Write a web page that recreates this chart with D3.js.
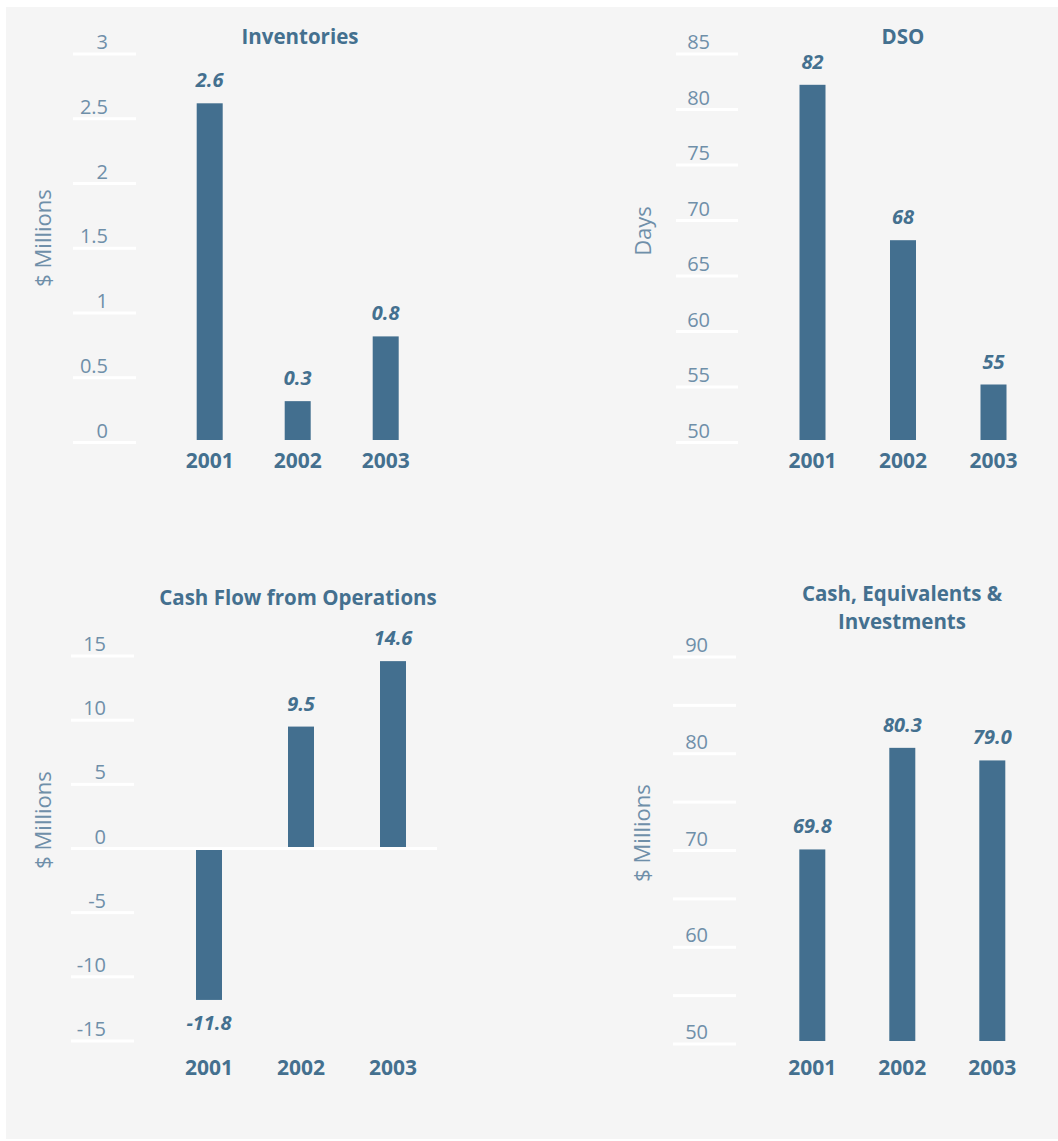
<!DOCTYPE html>
<html>
<head>
<meta charset="utf-8">
<script src="https://cdn.jsdelivr.net/npm/d3@7"></script>
<style>
  html, body { margin: 0; padding: 0; background: #ffffff; }
  svg { display: block; }
  text { font-family: "Open Sans", "Noto Sans", sans-serif; }
</style>
</head>
<body>
<svg id="chart" width="1058" height="1141"></svg>
<script>
// ---- Data ----
const years = ["2001", "2002", "2003"];
const inventories = [2.6, 0.3, 0.8];
const dso = [82, 68, 55];
const cashFlow = [-11.8, 9.5, 14.6];
const cashEquiv = [69.8, 80.3, 79.0];

const inventoryTicks = [0, 0.5, 1, 1.5, 2, 2.5, 3];
const inventoryTickLabels = ["0", "0.5", "1", "1.5", "2", "2.5", "3"];
const dsoTicks = [50, 55, 60, 65, 70, 75, 80, 85];
const dsoTickLabels = ["50", "55", "60", "65", "70", "75", "80", "85"];
const cashFlowTicks = [-15, -10, -5, 0, 5, 10, 15];
const cashFlowTickLabels = ["-15", "-10", "-5", "0", "5", "10", "15"];
const cashEquivTicks = [50, 55, 60, 65, 70, 75, 80, 85, 90];
const cashEquivTickLabels = ["50", "", "60", "", "70", "", "80", "", "90"];

// ---- Styles ----
const BAR = "#436f8f";
const DARK = "#44708f";
const LIGHT = "#6f8fa9";
const BG = "#f5f5f5";

const svg = d3.select("#chart");
svg.append("rect").attr("x", 6).attr("y", 7).attr("width", 1052).attr("height", 1132).attr("fill", BG);

const locale = d3.formatLocale({decimal: ".", thousands: ",", grouping: [3], currency: ["$", ""], minus: "-"});

// ---- Layout configs ----
const charts = [
  {
    title: ["Inventories"], titleX: 300, titleY: 44, titleGap: 0,
    yTitle: "$ Millions", yTitleX: 43, yTitleY: 238,
    values: inventories, fmt: locale.format(".1f"),
    ticks: inventoryTicks, tickLabels: inventoryTickLabels,
    yDomain: [0, 3], yRange: [440, 51.5], gridOff: 2.5,
    xCenters: [209.7, 385.7], gridX: [73, 136], tickX: 108,
    xLabelY: 468
  },
  {
    title: ["DSO"], titleX: 903, titleY: 44, titleGap: 0,
    yTitle: "Days", yTitleX: 643, yTitleY: 231,
    values: dso, fmt: locale.format("d"),
    ticks: dsoTicks, tickLabels: dsoTickLabels,
    yDomain: [50, 85], yRange: [440, 51.5], gridOff: 2.5,
    xCenters: [812.5, 993.5], gridX: [676, 738], tickX: 710,
    xLabelY: 468
  },
  {
    title: ["Cash Flow from Operations"], titleX: 298, titleY: 605, titleGap: 0,
    yTitle: "$ Millions", yTitleX: 43, yTitleY: 820,
    values: cashFlow, fmt: locale.format(".1f"),
    ticks: cashFlowTicks, tickLabels: cashFlowTickLabels,
    yDomain: [-15, 15], yRange: [1041, 656], gridOff: 0,
    xCenters: [209, 393], gridX: [71, 134], zeroX: 437, tickX: 106,
    xLabelY: 1075
  },
  {
    title: ["Cash, Equivalents &", "Investments"], titleX: 902, titleY: 601, titleGap: 28,
    yTitle: "$ Millions", yTitleX: 642, yTitleY: 833,
    values: cashEquiv, fmt: locale.format(".1f"),
    ticks: cashEquivTicks, tickLabels: cashEquivTickLabels,
    yDomain: [50, 90], yRange: [1041, 654], gridOff: 3,
    xCenters: [812.3, 992.3], gridX: [673, 736], tickX: 708,
    xLabelY: 1075
  }
];

const BAR_W = 26;

charts.forEach(c => {
  const g = svg.append("g");
  const x = d3.scalePoint().domain(years).range(c.xCenters);
  const y = d3.scaleLinear().domain(c.yDomain).range(c.yRange);
  const base = Math.max(c.yDomain[0], 0);

  // bars
  g.selectAll("rect.bar").data(c.values).enter().append("rect")
    .attr("class", "bar")
    .attr("x", (d, i) => x(years[i]) - BAR_W / 2)
    .attr("width", BAR_W)
    .attr("y", d => Math.min(y(d), y(base)))
    .attr("height", d => Math.abs(y(d) - y(base)))
    .attr("fill", BAR);

  // gridlines
  g.selectAll("rect.grid").data(c.ticks).enter().append("rect")
    .attr("class", "grid")
    .attr("x", c.gridX[0])
    .attr("width", d => (d === 0 && c.zeroX) ? c.zeroX - c.gridX[0] : c.gridX[1] - c.gridX[0])
    .attr("y", d => y(d) + c.gridOff - 1.5)
    .attr("height", 3)
    .attr("fill", "#ffffff");

  // tick labels
  g.selectAll("text.tick").data(c.ticks).enter().append("text")
    .attr("class", "tick")
    .attr("x", c.tickX)
    .attr("y", d => y(d) + c.gridOff - 5)
    .attr("text-anchor", "end")
    .attr("font-size", 20)
    .attr("fill", LIGHT)
    .text((d, i) => c.tickLabels[i]);

  // value labels
  g.selectAll("text.val").data(c.values).enter().append("text")
    .attr("class", "val")
    .attr("x", (d, i) => x(years[i]))
    .attr("y", d => d >= 0 ? y(d) - 16 : y(d) + 30)
    .attr("text-anchor", "middle")
    .attr("font-size", 20)
    .attr("font-weight", "bold")
    .attr("font-style", "italic")
    .attr("fill", DARK)
    .text(d => c.fmt(d));

  // x labels
  g.selectAll("text.xl").data(years).enter().append("text")
    .attr("class", "xl")
    .attr("x", d => x(d))
    .attr("y", c.xLabelY)
    .attr("text-anchor", "middle")
    .attr("font-size", 21)
    .attr("font-weight", "bold")
    .attr("fill", DARK)
    .text(d => d);

  // title lines
  c.title.forEach((t, i) => {
    g.append("text")
      .attr("x", c.titleX)
      .attr("y", c.titleY + i * c.titleGap)
      .attr("text-anchor", "middle")
      .attr("font-size", 20.5)
      .attr("font-weight", "bold")
      .attr("fill", DARK)
      .text(t);
  });

  // y axis title
  g.append("text")
    .attr("transform", `translate(${c.yTitleX},${c.yTitleY}) rotate(-90)`)
    .attr("dy", "0.35em")
    .attr("text-anchor", "middle")
    .attr("font-size", 22)
    .attr("fill", LIGHT)
    .text(c.yTitle);
});
</script>
</body>
</html>
